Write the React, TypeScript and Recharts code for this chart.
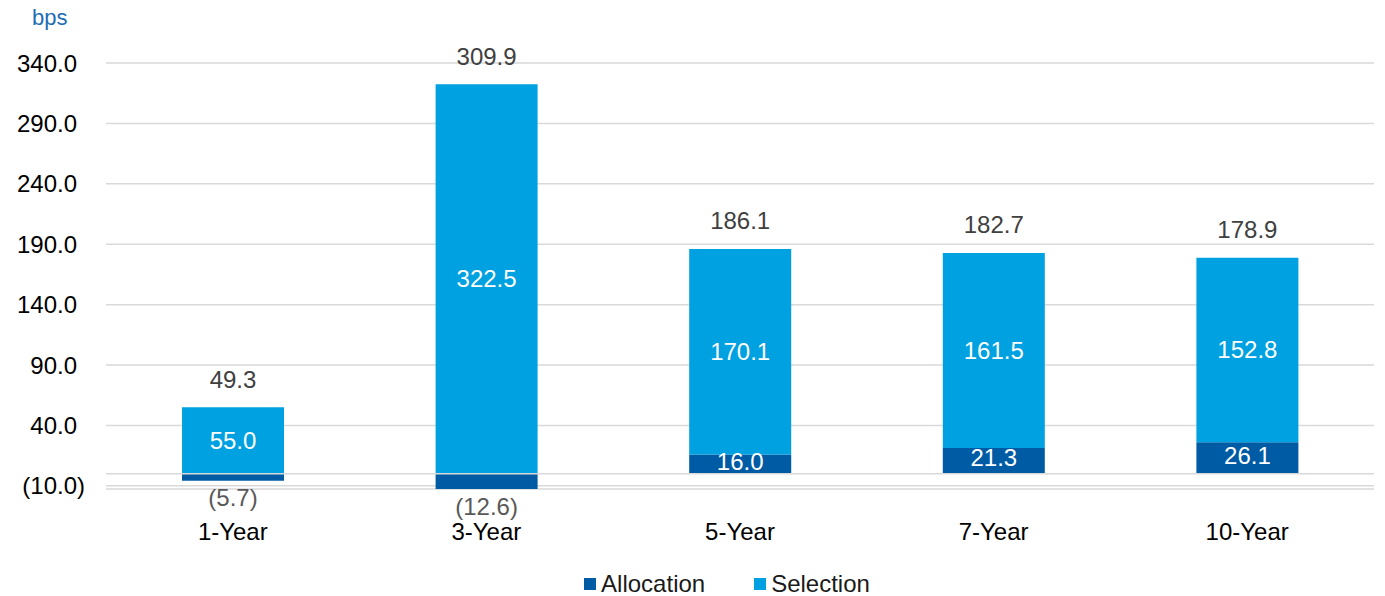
import { BarChart, Bar, XAxis, YAxis, CartesianGrid, Legend, LabelList, ReferenceLine } from 'recharts';

const categories = ['1-Year', '3-Year', '5-Year', '7-Year', '10-Year'];
const allocation = [-5.7, -12.6, 16.0, 21.3, 26.1];
const selection = [55.0, 322.5, 170.1, 161.5, 152.8];
const totals = [49.3, 309.9, 186.1, 182.7, 178.9];
const yTicks = [-10, 40, 90, 140, 190, 240, 290, 340];

const ALLOC_COLOR = '#005ba5';
const SEL_COLOR = '#00a1e0';
const FONT = '"Liberation Sans", Arial, sans-serif';
const FS = 24;

const data = categories.map((name, i) => ({
  name,
  allocation: allocation[i],
  selection: selection[i],
  total: totals[i],
}));

// negative numbers shown in parentheses
const fmt = (v: number) => (v < 0 ? `(${Math.abs(v).toFixed(1)})` : v.toFixed(1));

function AllocationLabel(props: any) {
  const { x, y, width, height, value } = props;
  const top = Math.min(y, y + height);
  const bottom = Math.max(y, y + height);
  const cx = x + width / 2;
  if (value < 0) {
    return (
      <text x={cx} y={bottom + 17} textAnchor="middle" dominantBaseline="central" fill="#595959" fontSize={FS} fontFamily={FONT}>
        {fmt(value)}
      </text>
    );
  }
  return (
    <text x={cx} y={(top + bottom) / 2 - 3} textAnchor="middle" dominantBaseline="central" fill="#fff" fontSize={FS} fontFamily={FONT}>
      {fmt(value)}
    </text>
  );
}

function SelectionLabel(props: any) {
  const { x, y, width, height, value } = props;
  const top = Math.min(y, y + height);
  const bottom = Math.max(y, y + height);
  return (
    <text x={x + width / 2} y={(top + bottom) / 2} textAnchor="middle" dominantBaseline="central" fill="#fff" fontSize={FS} fontFamily={FONT}>
      {fmt(value)}
    </text>
  );
}

function TotalLabel(props: any) {
  const { x, y, width, height, value } = props;
  const top = Math.min(y, y + height);
  return (
    <text x={x + width / 2} y={top - 28} textAnchor="middle" dominantBaseline="central" fill="#404040" fontSize={FS} fontFamily={FONT}>
      {fmt(value)}
    </text>
  );
}

// positive ticks leave room for the ")" like Excel's number format
function YTick(props: any) {
  const { x, y, payload } = props;
  const v = payload.value as number;
  return (
    <text x={v < 0 ? x : x - 8} y={y} textAnchor="end" dominantBaseline="central" fill="#000" fontSize={FS} fontFamily={FONT}>
      {fmt(v)}
    </text>
  );
}

function LegendContent() {
  const items = [
    { label: 'Allocation', color: ALLOC_COLOR },
    { label: 'Selection', color: SEL_COLOR },
  ];
  return (
    <div style={{ display: 'flex', justifyContent: 'center', height: 24, alignItems: 'center', paddingLeft: 80, fontFamily: FONT, fontSize: FS, color: '#1a1a1a' }}>
      {items.map((it, i) => (
        <div key={it.label} style={{ display: 'flex', alignItems: 'center', marginLeft: i ? 49 : 0 }}>
          <span style={{ width: 12, height: 12, background: it.color, display: 'inline-block', marginRight: 5 }} />
          <span>{it.label}</span>
        </div>
      ))}
    </div>
  );
}

export default function App() {
  return (
    <div style={{ position: 'absolute', left: 0, top: 0, width: 1385, height: 596, background: '#fff' }}>
      <div style={{ position: 'absolute', left: 32, top: 5, fontFamily: FONT, fontSize: 22, color: '#1f6db4' }}>bps</div>
      <BarChart
        width={1385}
        height={596}
        data={data}
        stackOffset="sign"
        margin={{ top: 63, right: 11, left: 0, bottom: 0 }}
      >
        <CartesianGrid vertical={false} stroke="#d9d9d9" strokeWidth={1.5} />
        <XAxis
          dataKey="name"
          axisLine={false}
          tickLine={false}
          tickSize={0}
          tickMargin={34}
          height={83}
          tick={{ fill: '#000', fontSize: FS, fontFamily: FONT }}
        />
        <YAxis
          domain={[-10, 340]}
          ticks={yTicks}
          width={106}
          axisLine={false}
          tickLine={false}
          tickSize={0}
          tickMargin={21}
          tick={<YTick />}
          interval={0}
        />
        <Legend verticalAlign="bottom" content={<LegendContent />} />
        <Bar dataKey="allocation" stackId="a" fill={ALLOC_COLOR} barSize={102} isAnimationActive={false}>
          <LabelList dataKey="allocation" content={<AllocationLabel />} />
        </Bar>
        <Bar dataKey="selection" stackId="a" fill={SEL_COLOR} barSize={102} isAnimationActive={false}>
          <LabelList dataKey="selection" content={<SelectionLabel />} />
          <LabelList dataKey="total" content={<TotalLabel />} />
        </Bar>
        <ReferenceLine y={0} stroke="#d9d9d9" strokeWidth={1.5} />
      </BarChart>
    </div>
  );
}
